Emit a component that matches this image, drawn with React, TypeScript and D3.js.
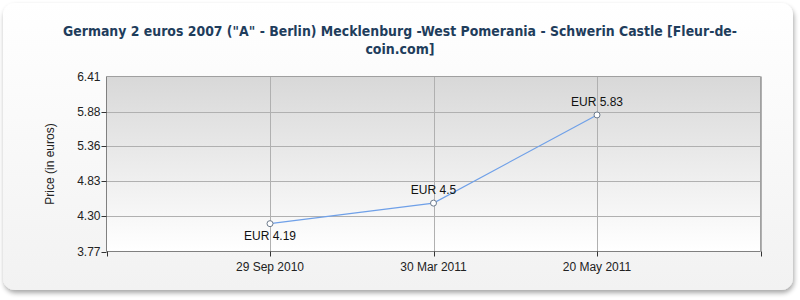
import React from "react";
import * as d3 from "d3";

const titleLines = [
  'Germany 2 euros 2007 ("A" - Berlin) Mecklenburg -West Pomerania - Schwerin Castle [Fleur-de-',
  "coin.com]",
];
const categories = ["29 Sep 2010", "30 Mar 2011", "20 May 2011"];
const prices = [4.19, 4.5, 5.83];
const priceLabels = ["EUR 4.19", "EUR 4.5", "EUR 5.83"];
const labelAbove = [false, true, true];
const yTicks = [3.77, 4.3, 4.83, 5.36, 5.88, 6.41];
const yAxisTitle = "Price (in euros)";

export default function App() {
  const W = 800, H = 300;
  const left = 106.5, right = 760.5, top = 76.5, bottom = 251.5;
  const x = d3.scaleLinear().domain([0, categories.length + 1]).range([left, right]);
  const y = d3.scaleLinear().domain([3.77, 6.41]).range([bottom, top]);
  const line = d3.line<number>().x((_, i) => x(i + 1)).y((d) => y(d));
  const xGrid = d3.range(1, categories.length + 2);
  const font = "Arial, 'Liberation Sans', sans-serif";

  return (
    <svg width={W} height={H} style={{ position: "absolute", left: 0, top: 0 }}>
      <defs>
        <linearGradient id="card" x1="0" y1="0" x2="0" y2="1">
          <stop offset="0" stopColor="#ffffff" />
          <stop offset="1" stopColor="#f2f2f2" />
        </linearGradient>
        <linearGradient id="plot" x1="0" y1="0" x2="0" y2="1">
          <stop offset="0" stopColor="#d8d8d8" />
          <stop offset="1" stopColor="#ffffff" />
        </linearGradient>
        <filter id="shadow" x="-5%" y="-5%" width="110%" height="115%">
          <feGaussianBlur in="SourceAlpha" stdDeviation="2.5" />
          <feOffset dx="1" dy="3" result="b" />
          <feComponentTransfer>
            <feFuncA type="linear" slope="0.35" />
          </feComponentTransfer>
          <feMerge>
            <feMergeNode />
            <feMergeNode in="SourceGraphic" />
          </feMerge>
        </filter>
      </defs>
      <rect x={3} y={3} width={790} height={287} rx={12} fill="url(#card)" filter="url(#shadow)" />
      {titleLines.map((t, i) => (
        <text
          key={i}
          x={400}
          y={36 + i * 18}
          textAnchor="middle"
          fontFamily="'DejaVu Sans Condensed', 'DejaVu Sans', sans-serif"
          fontWeight="bold"
          fontSize={14}
          fill="#1f3d5c"
          textLength={i === 0 ? 674 : undefined}
          lengthAdjust="spacingAndGlyphs"
        >
          {t}
        </text>
      ))}
      <rect x={left} y={top} width={right - left} height={bottom - top} fill="url(#plot)" />
      {yTicks.slice(1, -1).map((t) => (
        <line key={t} x1={left} x2={right} y1={Math.round(y(t)) + 0.5} y2={Math.round(y(t)) + 0.5} stroke="#b0b0b0" />
      ))}
      {xGrid.map((i) => (
        <line key={i} x1={Math.round(x(i)) + 0.5} x2={Math.round(x(i)) + 0.5} y1={top} y2={bottom} stroke="#b0b0b0" />
      ))}
      <line x1={left} x2={right} y1={top} y2={top} stroke="#a0a0a0" />
      <line x1={right} x2={right} y1={top} y2={bottom} stroke="#a0a0a0" />
      <line x1={left} x2={left} y1={top} y2={bottom} stroke="#808080" />
      <line x1={left} x2={right} y1={bottom} y2={bottom} stroke="#808080" />
      {yTicks.map((t) => (
        <g key={t}>
          {t !== yTicks[yTicks.length - 1] && (
            <line x1={left - 5} x2={left} y1={Math.round(y(t)) + 0.5} y2={Math.round(y(t)) + 0.5} stroke="#333" />
          )}
          <text x={left - 6} y={y(t) + 4} textAnchor="end" fontFamily={font} fontSize={12} fill="#222">
            {t.toFixed(2)}
          </text>
        </g>
      ))}
      {[0, ...xGrid].map((i) => (
        <line key={i} x1={Math.round(x(i)) + 0.5} x2={Math.round(x(i)) + 0.5} y1={bottom} y2={bottom + 5} stroke="#333" />
      ))}
      {categories.map((c, i) => (
        <text key={c} x={x(i + 1)} y={271} textAnchor="middle" fontFamily={font} fontSize={12} fill="#222">
          {c}
        </text>
      ))}
      <text
        transform={`translate(54,164) rotate(-90)`}
        textAnchor="middle"
        fontFamily={font}
        fontSize={12}
        fill="#222"
      >
        {yAxisTitle}
      </text>
      <path d={line(prices) || ""} fill="none" stroke="#6fa0e8" strokeWidth={1.2} />
      {prices.map((p, i) => (
        <circle key={i} cx={x(i + 1)} cy={y(p)} r={3} fill="#fff" stroke="#6d7b8c" strokeWidth={1} />
      ))}
      {prices.map((p, i) => (
        <text
          key={i}
          x={x(i + 1)}
          y={labelAbove[i] ? y(p) - 9 : y(p) + 16}
          textAnchor="middle"
          fontFamily={font}
          fontSize={12}
          fill="#111"
        >
          {priceLabels[i]}
        </text>
      ))}
    </svg>
  );
}
